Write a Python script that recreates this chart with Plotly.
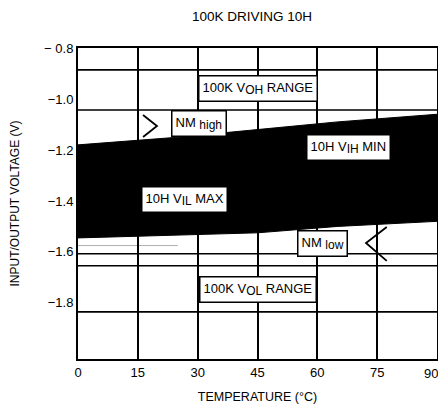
import plotly.graph_objects as go

# band of 10H input thresholds vs temperature
temps = [0, 25, 45, 65, 90]
vih_min = [-1.18, -1.15, -1.12, -1.09, -1.06]
vil_max = [-1.545, -1.535, -1.525, -1.50, -1.48]

# horizontal reference lines (100K output ranges etc.)
hlines = [-0.886, -1.043, -1.607, -1.654, -1.835]
faint_line = -1.575

# noise margin chevrons
nm_high_x = [16.3, 19.8, 16.3]
nm_high_y = [-1.063, -1.106, -1.149]
nm_low_x = [77.4, 72.2, 77.4]
nm_low_y = [-1.502, -1.565, -1.635]

x_ticks = [0, 15, 30, 45, 60, 75, 90]
# the last label is drawn separately so it sits inside the frame like the original
x_ticktext = ["0", "15", "30", "45", "60", "75", ""]
last_x_label = "90"
y_ticks = [-0.8, -1.0, -1.2, -1.4, -1.6, -1.8]
y_ticktext = ["\u2212 0.8", "\u22121.0", "\u22121.2", "\u22121.4", "\u22121.6", "\u22121.8"]


def sub(s):
    return "<sub><span style='font-size:12px'>" + s + "</span></sub>"


labels = [
    ("100K V" + sub("OH") + " RANGE", 45.1, -0.959),
    ("NM " + sub("high"), 30.3, -1.098),
    ("10H V" + sub("IH") + " MIN", 67.9, -1.192),
    ("10H V" + sub("IL") + " MAX", 26.6, -1.396),
    ("NM " + sub("low"), 61.2, -1.567),
    ("100K V" + sub("OL") + " RANGE", 45.1, -1.749),
]

FONT = "Liberation Sans Narrow, Liberation Sans, Arial, sans-serif"

fig = go.Figure()

fig.add_trace(go.Scatter(x=temps, y=vil_max, mode="lines",
                         line=dict(color="black", width=1), hoverinfo="skip"))
fig.add_trace(go.Scatter(x=temps, y=vih_min, mode="lines", fill="tonexty",
                         fillcolor="black", line=dict(color="black", width=1),
                         hoverinfo="skip"))

fig.add_trace(go.Scatter(x=nm_high_x, y=nm_high_y, mode="lines",
                         line=dict(color="black", width=1.8), hoverinfo="skip"))
fig.add_trace(go.Scatter(x=nm_low_x, y=nm_low_y, mode="lines",
                         line=dict(color="black", width=1.8), hoverinfo="skip"))

for yv in hlines:
    fig.add_shape(type="line", xref="paper", x0=0, x1=1, yref="y", y0=yv, y1=yv,
                  line=dict(color="black", width=1.6), layer="below")
fig.add_shape(type="line", xref="x", x0=0, x1=25, yref="y", y0=faint_line, y1=faint_line,
              line=dict(color="#999999", width=0.8), layer="below")

for text, xv, yv in labels:
    fig.add_annotation(x=xv, y=yv, text=text, showarrow=False,
                       font=dict(family=FONT, size=13, color="black"),
                       bgcolor="white", bordercolor="black", borderwidth=1.5,
                       borderpad=3)

fig.add_annotation(x=x_ticks[-1], xref="x", xanchor="right", xshift=3,
                   y=0, yref="paper", yanchor="middle", yshift=-14,
                   text=last_x_label, showarrow=False,
                   font=dict(family=FONT, size=13, color="black"))

# page body adds an 8px margin, so the figure is offset to fit inside it
fig.update_layout(
    width=446, height=405,
    margin=dict(l=70, r=17, t=40, b=54),
    paper_bgcolor="white", plot_bgcolor="white",
    showlegend=False,
    font=dict(family=FONT, size=13, color="black"),
    title=dict(text="100K DRIVING 10H", x=0.547, xanchor="center",
               y=0.980, yanchor="middle", font=dict(family=FONT, size=13.5)),
)
fig.update_xaxes(range=[0, 90], tickvals=x_ticks, ticktext=x_ticktext, showgrid=True,
                 gridcolor="black", gridwidth=1.6, zeroline=False,
                 showline=True, linecolor="black", linewidth=2, mirror=True,
                 ticks="", automargin=False,
                 title=dict(text="TEMPERATURE (\u00b0C)", standoff=14,
                            font=dict(size=12.5)))
fig.update_yaxes(range=[-2.02, -0.8], tickvals=y_ticks, ticktext=y_ticktext,
                 showgrid=False, zeroline=False,
                 showline=True, linecolor="black", linewidth=2, mirror=True,
                 ticks="", automargin=False,
                 title=dict(text="INPUT/OUTPUT VOLTAGE (V)", standoff=22,
                            font=dict(size=12)))

fig.write_html("out.html")
